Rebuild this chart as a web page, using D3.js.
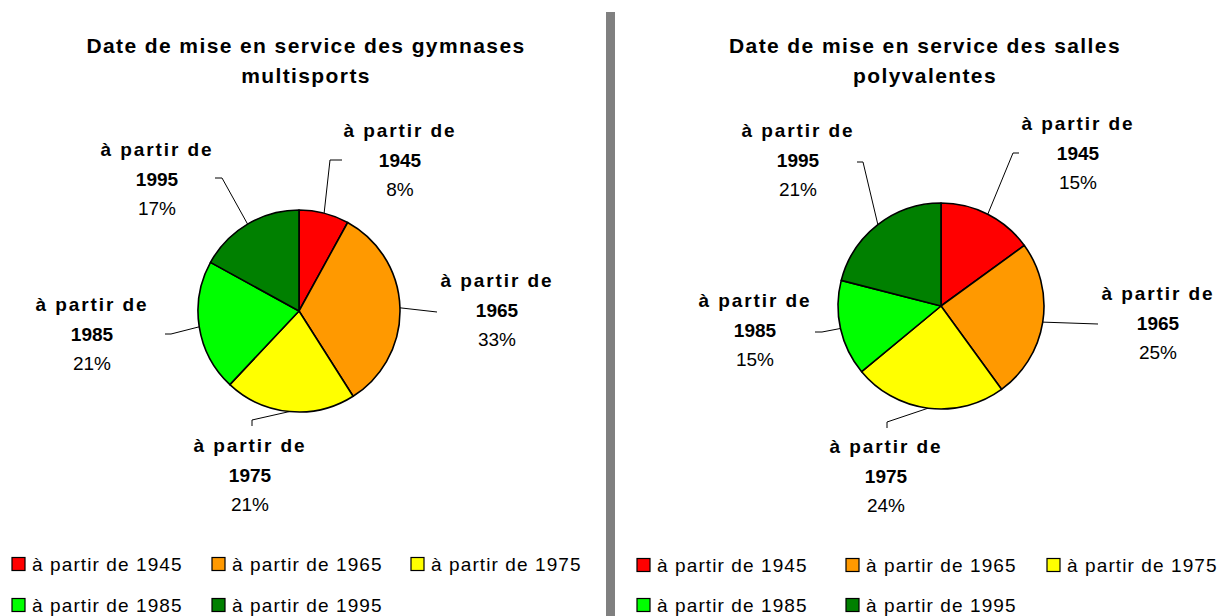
<!DOCTYPE html>
<html><head><meta charset="utf-8">
<script src="https://cdn.jsdelivr.net/npm/d3@7"></script>
<style>
html,body{margin:0;padding:0;background:#fff;}
text{font-family:"Liberation Sans",Arial,sans-serif;fill:#000;}
</style></head>
<body><svg id="c" width="1222" height="616"></svg>
<script>
// ---- data ----
const categories = ["à partir de 1945","à partir de 1965","à partir de 1975","à partir de 1985","à partir de 1995"];
const labelPrefix = "à partir de";
const years = ["1945","1965","1975","1985","1995"];
const gymnasesValues = [8,33,21,21,17];
const sallesValues = [15,25,24,15,21];
const colors = ["#FF0000","#FF9900","#FFFF00","#00FF00","#008000"];
const titleGymnases = ["Date de mise en service des gymnases","multisports"];
const titleSalles = ["Date de mise en service des salles","polyvalentes"];

// ---- layout ----
const charts = [
  { values: gymnasesValues, title: titleGymnases, titleX: 306, titleY: [45,75],
    cx: 299, cy: 311, r: 101,
    labels: [ {x:400,y:160, elbow:[330,160], end:[342,160]},
              {x:497,y:310, elbow:[437,312], end:[437,312]},
              {x:250,y:475, elbow:[252,420], end:[252,426]},
              {x:92, y:334, elbow:[171,334], end:[165,334]},
              {x:157,y:179, elbow:[222,178], end:[215,178]} ],
    legendX: [12,212,411], legendY: [564,605] },
  { values: sallesValues, title: titleSalles, titleX: 925, titleY: [45,75],
    cx: 941, cy: 306, r: 103,
    labels: [ {x:1078,y:153, elbow:[1013,153], end:[1019,153]},
              {x:1158,y:323, elbow:[1098,324], end:[1098,324]},
              {x:886, y:476, elbow:[887,422], end:[887,428]},
              {x:755, y:330, elbow:[822,332], end:[815,332]},
              {x:798, y:160, elbow:[863,162], end:[857,162]} ],
    legendX: [637,846,1047], legendY: [565,605] }
];

const svg = d3.select("#c");

// separator
svg.append("rect").attr("x",606).attr("y",12).attr("width",9).attr("height",604).attr("fill","#808080");

const pie = d3.pie().sort(null).value(d=>d).startAngle(0).endAngle(2*Math.PI);
const color = d3.scaleOrdinal().domain(d3.range(categories.length)).range(colors);

charts.forEach(ch=>{
  const g = svg.append("g");
  // title
  g.selectAll("text.title").data(ch.title).join("text")
    .attr("x",ch.titleX).attr("y",(d,i)=>ch.titleY[i]).attr("dy","0.36em")
    .attr("text-anchor","middle").style("font-size","21px").style("font-weight","bold")
    .style("letter-spacing","1.4px").text(d=>d);

  const arcs = pie(ch.values);
  const arc = d3.arc().innerRadius(0).outerRadius(ch.r);
  const pg = g.append("g").attr("transform",`translate(${ch.cx},${ch.cy})`);
  pg.selectAll("path").data(arcs).join("path")
    .attr("d",arc).attr("fill",(d,i)=>color(i))
    .attr("stroke","#000").attr("stroke-width",1.6).attr("stroke-linejoin","round");

  // leaders
  arcs.forEach((a,i)=>{
    const m = (a.startAngle+a.endAngle)/2;
    const sx = ch.cx + ch.r*Math.sin(m), sy = ch.cy - ch.r*Math.cos(m);
    const L = ch.labels[i];
    g.append("path").attr("d",d3.line()([[sx,sy],L.elbow,L.end]))
      .attr("fill","none").attr("stroke","#000").attr("stroke-width",1);
    const t = g.append("text").attr("text-anchor","middle").style("font-size","19px");
    t.append("tspan").attr("x",L.x).attr("y",L.y-30).attr("dy","0.36em")
      .style("font-weight","bold").style("letter-spacing","1.9px").text(labelPrefix);
    t.append("tspan").attr("x",L.x).attr("y",L.y).attr("dy","0.36em")
      .style("font-weight","bold").text(years[i]);
    t.append("tspan").attr("x",L.x).attr("y",L.y+29).attr("dy","0.36em")
      .text(d3.format(".0%")(a.data/100));
  });

  // legend
  categories.forEach((c,i)=>{
    const col = i%3, row = Math.floor(i/3);
    const x = ch.legendX[col], y = ch.legendY[row];
    g.append("rect").attr("x",x).attr("y",y-6.5).attr("width",13).attr("height",13)
      .attr("fill",color(i)).attr("stroke","#000").attr("stroke-width",1.2);
    g.append("text").attr("x",x+20).attr("y",y).attr("dy","0.36em")
      .style("font-size","19px").style("letter-spacing","1.1px").text(c);
  });
});
</script></body></html>
